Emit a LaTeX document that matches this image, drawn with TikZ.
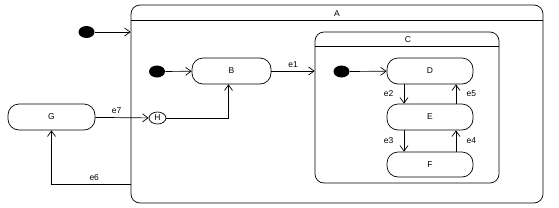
\documentclass[tikz,border=0pt]{standalone}
\usepackage{fontspec}
\setmainfont{Liberation Sans}
\usetikzlibrary{arrows.meta,shapes.geometric}

\begin{document}
\begin{tikzpicture}[x=1pt,y=-1pt,line width=0.7pt,
  state/.style={draw,rounded corners=11pt,minimum width=86pt,minimum height=26pt,inner sep=0pt},
  group/.style={draw,rounded corners=9pt,inner sep=0pt},
  start/.style={ellipse,fill=black,minimum width=16pt,minimum height=12pt,inner sep=0pt},
  hist/.style={draw,ellipse,minimum width=17pt,minimum height=12pt,inner sep=0pt},
  trans/.style={-{Straight Barb[length=5.5pt,width=8pt]}},
  font=\fontsize{8.5}{10}\selectfont]
  \useasboundingbox (0,0) rectangle (559,207);
  % composite states
  \node[group,minimum width=412pt,minimum height=198pt] (A) at (337,104) {};
  \node[group,minimum width=184pt,minimum height=151pt] (C) at (407,107.5) {};
  \draw ([yshift=-16pt]A.north west) -- ([yshift=-16pt]A.north east);
  \draw ([yshift=-15pt]C.north west) -- ([yshift=-15pt]C.north east);
  \node (Aname) at (337,14) {A};
  \node (Cname) at (408,40) {C};
  % simple states
  \node[state,minimum width=79pt] (B) at (231.5,71) {B};
  \node[state,minimum width=87pt] (G) at (51.5,117) {G};
  \node[state] (D) at (430,71) {D};
  \node[state] (E) at (430,117) {E};
  \node[state,minimum height=25pt] (F) at (430,164.5) {F};
  % pseudo states
  \node[start] (s0) at (86.5,32) {};
  \node[start] (s1) at (157,71.5) {};
  \node[start] (s2) at (341.5,71.5) {};
  \node[hist] (H) at (157.5,118) {H};
  \coordinate (exitA) at (A.west |- 0,184);
  % transitions
  \draw[trans] (s0) -- (s0 -| A.west);
  \draw[trans] (s1) -- (B);
  \draw[trans] (B) -- node[above]{e1} (B -| C.west);
  \draw[trans] (s2) -- (D);
  \draw[trans] (G) -- node[above,pos=0.4]{e7} (H);
  \draw[trans] (H) -| ([xshift=-3pt]B.south);
  \draw[trans] (exitA) -| node[above,pos=0.23]{e6} (G);
  \draw[trans] ([xshift=-26pt]D.south) -- node[left,xshift=-7pt]{e2} ([xshift=-26pt]E.north);
  \draw[trans] ([xshift=26pt]E.north) -- node[right,xshift=7pt]{e5} ([xshift=26pt]D.south);
  \draw[trans] ([xshift=-26pt]E.south) -- node[left,xshift=-7pt]{e3} ([xshift=-26pt]F.north);
  \draw[trans] ([xshift=26pt]F.north) -- node[right,xshift=7pt]{e4} ([xshift=26pt]E.south);
\end{tikzpicture}
\end{document}
